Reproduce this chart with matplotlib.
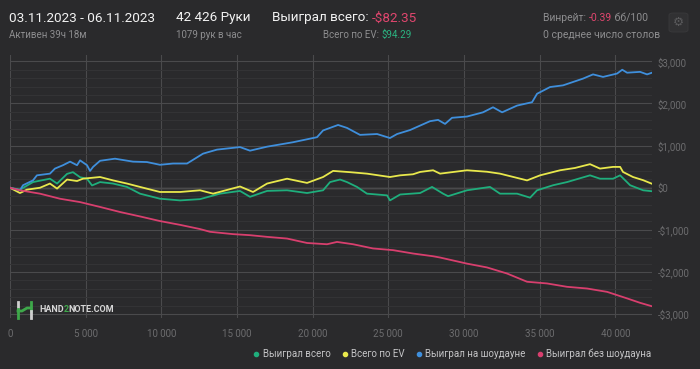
import matplotlib
matplotlib.use("Agg")
import matplotlib.pyplot as plt
from matplotlib.lines import Line2D
from matplotlib.patches import FancyBboxPatch
from matplotlib.ticker import MultipleLocator, FuncFormatter

plt.rcParams['font.family'] = ['Roboto', 'DejaVu Sans']

# --- data (hands, $) ---
total_hands = [0, 660, 1520, 2640, 3110, 3770, 4160, 4630, 5090, 5420, 5950, 6810, 7730, 8590,
               9910, 11240, 12560, 13880, 15200, 15860, 16990, 18310, 19630, 20690, 21150, 21810,
               22270, 22930, 23590, 24920, 25110, 25780, 27100, 27890, 28620, 28950, 30200, 31720,
               32380, 33510, 34370, 34830, 35890, 36810, 38330, 38990, 39850, 40320, 40980, 41840, 42426]
total_won = [0, -45, 135, 215, 100, 330, 370, 250, 215, 55, 135, 100, 20, -140,
             -260, -300, -270, -140, -75, -215, -75, -60, -125, -60, 135, 195,
             135, 20, -140, -180, -300, -160, -125, 20, -140, -200, -60, 20,
             -140, -140, -235, -60, 60, 135, 295, 215, 215, 295, 60, -60, -82.35]

ev_hands = [0, 660, 1120, 1980, 2640, 3110, 3770, 4430, 4820, 5950, 6810, 7730, 8590, 9910,
            11240, 12560, 13420, 15200, 16060, 16990, 18310, 19630, 20690, 21350, 22470, 23590,
            25110, 25780, 26630, 27100, 27960, 28420, 30200, 31520, 32380, 34170, 35030, 36350,
            37340, 38330, 38990, 39850, 40320, 40510, 41170, 41840, 42426]
ev_won = [0, -125, -45, 0, 100, -20, 195, 160, 215, 255, 175, 100, 20, -100,
          -100, -60, -140, 30, -100, 100, 215, 115, 255, 400, 370, 335,
          255, 295, 320, 375, 415, 335, 415, 380, 335, 175, 295, 415,
          470, 560, 455, 495, 495, 375, 255, 180, 94.29]

sd_hands = [0, 660, 860, 1520, 1780, 2640, 2970, 3500, 3970, 4430, 4630, 5090, 5290, 5490,
            5950, 6940, 7270, 8130, 9050, 9910, 10770, 11700, 12760, 13680, 15200, 15860,
            16990, 18700, 20290, 20690, 21680, 22270, 23130, 24260, 25110, 25580, 26440, 27760,
            28290, 28750, 29210, 30200, 31260, 31920, 32520, 33510, 34500, 34830, 35690, 36550,
            37870, 38530, 39190, 40120, 40460, 40780, 41640, 42100, 42426]
sd_won = [0, -60, 60, 175, 295, 335, 455, 535, 620, 535, 650, 535, 400, 495,
          640, 690, 670, 620, 610, 545, 575, 575, 810, 905, 965, 880,
          975, 1080, 1200, 1360, 1490, 1420, 1255, 1275, 1180, 1275, 1370, 1580,
          1610, 1515, 1660, 1690, 1790, 1910, 1790, 1950, 2030, 2230, 2390, 2430,
          2590, 2690, 2630, 2710, 2800, 2730, 2750, 2690, 2730]

nsd_hands = [0, 660, 1980, 3300, 4630, 5950, 7270, 8590, 9910, 11240, 12560, 13220, 14740,
             15860, 16990, 18310, 19630, 20950, 21610, 22670, 23990, 25310, 26630, 27960,
             28420, 30200, 31520, 32850, 34170, 35490, 36810, 38130, 39460, 40780, 41640, 42426]
nsd_won = [0, -60, -140, -260, -340, -455, -575, -680, -790, -880, -980, -1045, -1100,
           -1125, -1165, -1205, -1310, -1340, -1285, -1340, -1440, -1480, -1560, -1625,
           -1655, -1800, -1890, -2035, -2230, -2270, -2350, -2390, -2470, -2625, -2730, -2812]

series_names = ['Выиграл всего', 'Всего по EV', 'Выиграл на шоудауне', 'Выиграл без шоудауна']
series_colors = ['#1fae7c', '#e8e84c', '#3f8fdc', '#d83f6e']

bg = '#2a2a2c'
W, H = 700, 369

fig = plt.figure(figsize=(7, 3.69), dpi=100, facecolor=bg)
ax = fig.add_axes([10 / W, 1 - 318 / H, 642 / W, 263 / H], facecolor=bg)

series = [(total_hands, total_won), (ev_hands, ev_won), (sd_hands, sd_won), (nsd_hands, nsd_won)]
for (hx, hy), c in zip(series, series_colors):
    ax.plot(hx, hy, color=c, lw=1.3, solid_joinstyle='round', zorder=3)

ax.set_xlim(0, 42426)
ax.set_ylim(-3090, 3150)
ax.xaxis.set_major_locator(MultipleLocator(5000))
ax.yaxis.set_major_locator(MultipleLocator(1000))
ax.yaxis.set_minor_locator(MultipleLocator(200))
ax.grid(which='major', color='#4a4a4c', lw=0.8, zorder=0)
ax.grid(which='minor', axis='y', color='#343436', lw=0.7, zorder=0)
ax.axhline(0, color='#8a8a8a', lw=0.9, zorder=1)

ax.yaxis.tick_right()
ax.xaxis.set_major_formatter(FuncFormatter(lambda v, p: f'{int(v):,}'.replace(',', ' ')))
ax.yaxis.set_major_formatter(FuncFormatter(
    lambda v, p: ('-' if v < 0 else '') + f'${abs(int(v)):,}'))
ax.tick_params(which='both', length=0, colors='#6c6c6e', labelsize=7)
ax.tick_params(axis='x', pad=8)
ax.tick_params(axis='y', pad=4)
for s in ax.spines.values():
    s.set_visible(False)

# --- header ---
renderer = fig.canvas.get_renderer()


def put(x, y, parts, size, weight='normal'):
    # parts: list of (text, color), drawn one after another from pixel x
    for txt, col in parts:
        t = fig.text(x / W, 1 - y / H, txt, color=col, fontsize=size, weight=weight,
                     va='center', ha='left')
        x += t.get_window_extent(renderer).width


put(9, 18, [('03.11.2023 - 06.11.2023', '#f2f2f2')], 9.7)
put(9, 35, [('Активен 39ч 18м', '#8d8d8f')], 7)
put(176, 18, [('42 426 Руки', '#f2f2f2')], 9.7)
put(176, 35, [('1079 рук в час', '#8d8d8f')], 7)
put(272, 18, [('Выиграл всего: ', '#f2f2f2'), ('-$82.35', '#e0466e')], 9.7)
put(323, 35, [('Всего по EV: ', '#8d8d8f'), ('$94.29', '#2bb381')], 7)
put(543, 18, [('Винрейт: ', '#8d8d8f'), ('-0.39', '#e0466e'), (' бб/100', '#8d8d8f')], 7.5)
put(543, 35, [('0 среднее число столов', '#8d8d8f')], 7.5)

fig.patches.append(FancyBboxPatch((669 / W, 1 - 32 / H), 19 / W, 19 / H,
                                  boxstyle='round,pad=0,rounding_size=0.006',
                                  transform=fig.transFigure, facecolor='#313133',
                                  edgecolor='#3a3a3c', lw=0.6))
fig.text(678.5 / W, 1 - 22.5 / H, '\u2699', color='#5a5a5c', fontsize=9,
         ha='center', va='center', family='DejaVu Sans')

# --- watermark ---
def fl(xs, ys, col, lw):
    fig.add_artist(Line2D([x / W for x in xs], [1 - y / H for y in ys],
                          transform=fig.transFigure, color=col, lw=lw, zorder=5))


fl([18, 18], [302, 309], '#cfcfcf', 2)
fl([18, 18], [309, 318], '#3ea84a', 2)
fl([31, 31], [302, 311], '#3ea84a', 2)
fl([31, 31], [311, 318], '#cfcfcf', 2)
fl([18, 22, 27, 31], [311, 311, 308, 308], '#3ea84a', 2)
put(39, 310, [('HAND', '#d6d6d6'), ('2', '#3ea84a'), ('NOTE.COM', '#d6d6d6')], 6.5, 'bold')

# --- legend ---
handles = [Line2D([], [], ls='none', marker='o', ms=3, color=c) for c in series_colors]
leg = fig.legend(handles, series_names, loc='center right', bbox_to_anchor=(656 / W, 1 - 354 / H),
                 ncol=4, frameon=False, fontsize=7, handlelength=0.5, handletextpad=0.4,
                 columnspacing=1.2, labelcolor='#c4c4c6', borderpad=0)

fig.savefig('out.png', dpi=100, facecolor=bg)
